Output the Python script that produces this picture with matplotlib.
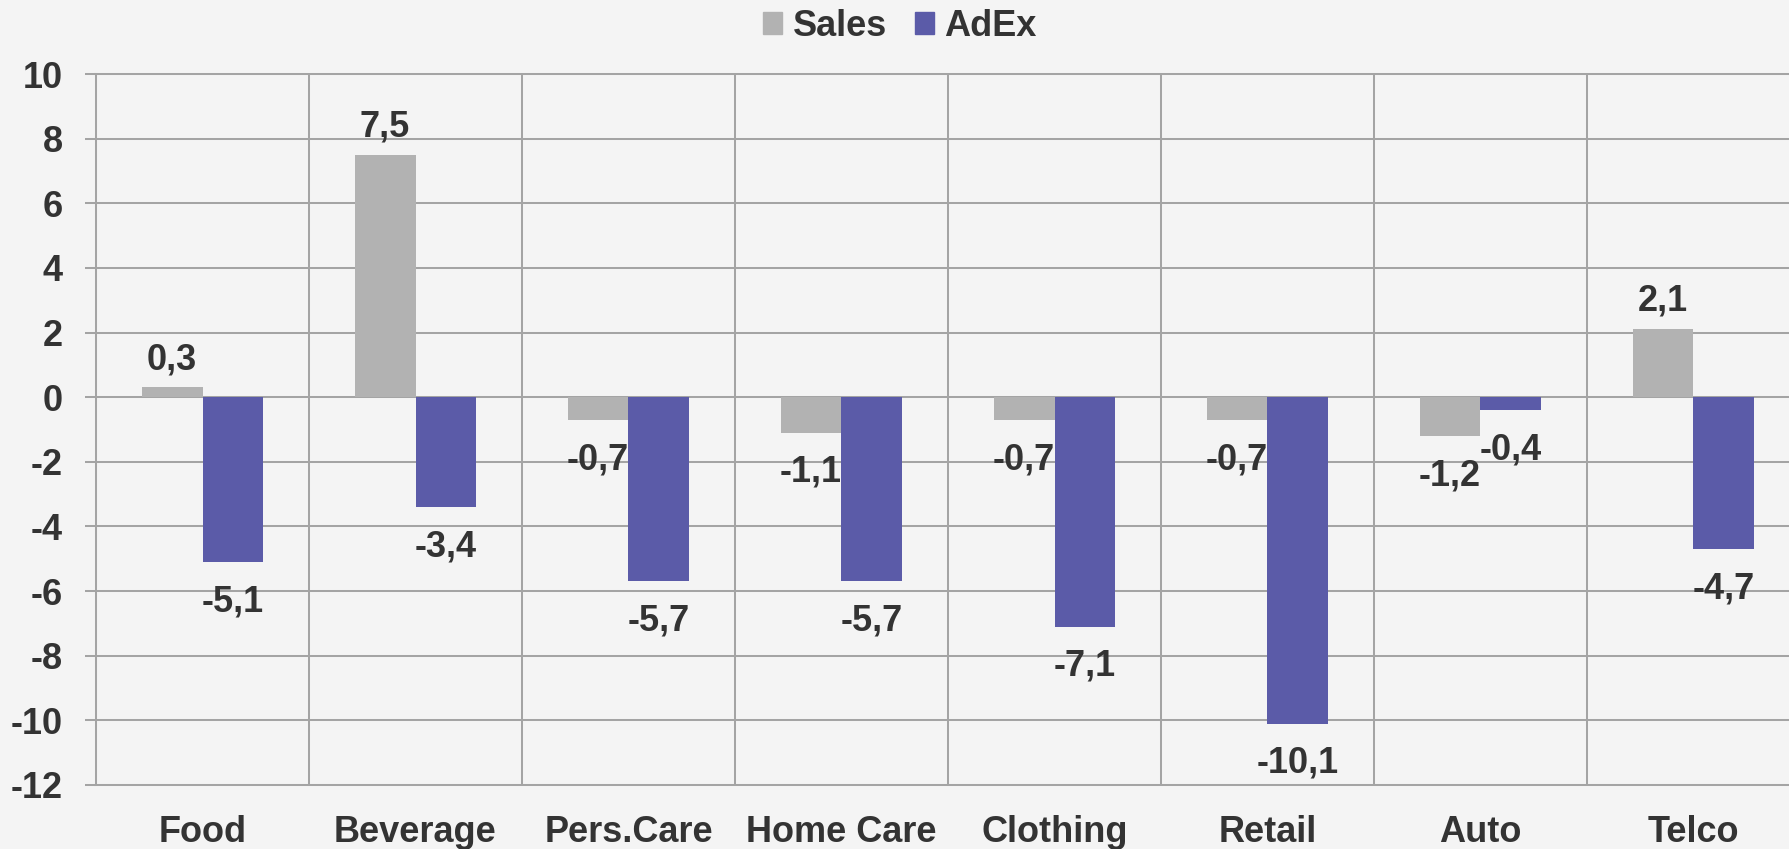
import matplotlib
matplotlib.use('Agg')
import matplotlib.pyplot as plt
import numpy as np
from matplotlib.patches import Patch

categories = ['Food', 'Beverage', 'Pers.Care', 'Home Care', 'Clothing', 'Retail', 'Auto', 'Telco']
sales = [0.3, 7.5, -0.7, -1.1, -0.7, -0.7, -1.2, 2.1]
adex = [-5.1, -3.4, -5.7, -5.7, -7.1, -10.1, -0.4, -4.7]
series_names = ['Sales', 'AdEx']
yticks = list(range(-12, 11, 2))

BG = '#f4f4f4'
GRID = '#a4a4a4'
TXT = '#333333'
C_SALES = '#b2b2b2'
C_ADEX = '#5b5ba8'
FS = 26
LW = 1.45

plt.rcParams['font.family'] = ['Liberation Sans', 'DejaVu Sans']
plt.rcParams['font.weight'] = 'bold'

W, H = 1789, 849
fig = plt.figure(figsize=(W / 100, H / 100), dpi=100, facecolor=BG)
ax = fig.add_axes([96 / W, 64 / H, 1704 / W, 711 / H], facecolor=BG)

x = np.arange(len(categories))
w = 0.286
b1 = ax.bar(x - w / 2, sales, w, color=C_SALES, zorder=2)
b2 = ax.bar(x + w / 2, adex, w, color=C_ADEX, zorder=3)

for bars, vals in ((b1, sales), (b2, adex)):
    for r, v in zip(bars, vals):
        xc = r.get_x() + r.get_width() / 2
        lab = f'{v:.1f}'.replace('.', ',')
        if v >= 0:
            ax.annotate(lab, (xc, v), xytext=(0, 7.5), textcoords='offset points',
                        ha='center', va='bottom', fontsize=FS, color=TXT,
                        fontweight='bold', zorder=2.5)
        else:
            ax.annotate(lab, (xc, v), xytext=(0, -16), textcoords='offset points',
                        ha='center', va='top', fontsize=FS, color=TXT,
                        fontweight='bold', zorder=2.5)

ax.set_xlim(-0.5, len(categories) - 0.5)
ax.set_ylim(-12, 10)
ax.set_xticks(x, categories)
ax.set_xticks(np.arange(len(categories) + 1) - 0.5, minor=True)
ax.set_yticks(yticks)
ax.set_yticklabels([str(t) for t in yticks])

ax.set_axisbelow(True)
ax.grid(axis='y', which='major', color=GRID, lw=LW)
ax.grid(axis='x', which='minor', color=GRID, lw=LW)
ax.grid(axis='x', which='major', visible=False)

ax.tick_params(axis='x', which='both', length=0, pad=21.6, labelsize=FS, labelcolor=TXT)
ax.tick_params(axis='y', which='major', length=7.9, width=LW, color=GRID, pad=15.8,
               labelsize=FS, labelcolor=TXT)
for lbl in ax.get_xticklabels() + ax.get_yticklabels():
    lbl.set_fontweight('bold')

for side in ('left', 'bottom', 'top'):
    ax.spines[side].set_color(GRID)
    ax.spines[side].set_linewidth(LW)
ax.spines['right'].set_visible(False)

handles = [Patch(color=C_SALES), Patch(color=C_ADEX)]
fig.legend(handles=handles, labels=series_names, loc='center', bbox_to_anchor=(0.503, 0.969),
           ncol=2, frameon=False, fontsize=FS, handlelength=0.53, handleheight=0.55,
           handletextpad=0.28, columnspacing=0.78, borderpad=0, labelcolor=TXT,
           prop={'weight': 'bold', 'size': FS})

fig.savefig('out.png', dpi=100, facecolor=BG)
